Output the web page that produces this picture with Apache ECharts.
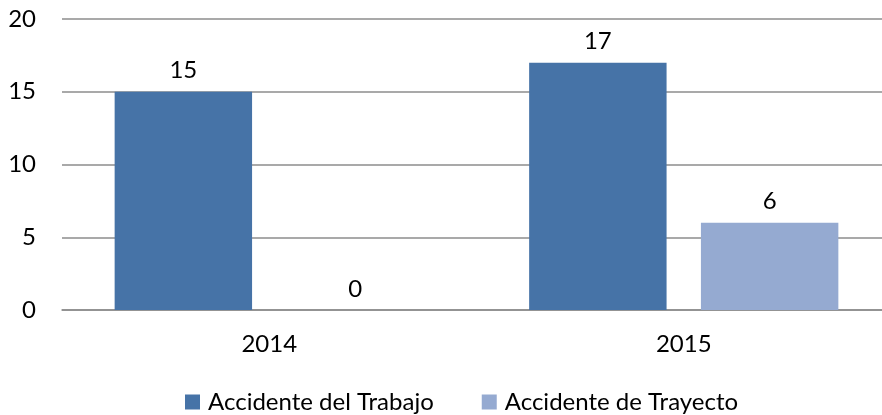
<!DOCTYPE html>
<html>
<head>
<meta charset="utf-8">
<script src="https://cdn.jsdelivr.net/npm/echarts@6/dist/echarts.min.js"></script>
<style>
  html, body { margin: 0; padding: 0; background: #fff; }
  #chart { width: 882px; height: 415px; }
</style>
</head>
<body>
<div id="chart"></div>
<script>
  const years = ['2014', '2015'];
  const trabajo = [15, 17];
  const trayecto = [0, 6];
  const seriesNames = ['Accidente del Trabajo', 'Accidente de Trayecto'];

  const font = 'Lato, "Open Sans", sans-serif';
  const chart = echarts.init(document.getElementById('chart'));

  const option = {
    animation: false,
    textStyle: { fontFamily: font, color: '#000' },
    // plot area runs a bit past the right edge, like the original
    grid: { left: 62, top: 19, width: 829, height: 291, outerBoundsMode: 'none' },
    legend: {
      left: 180,
      top: 385,
      itemWidth: 15,
      itemHeight: 15,
      itemGap: 48,
      icon: 'rect',
      textStyle: { fontFamily: font, fontSize: 24, color: '#000', padding: [0, 0, 0, 3] },
      data: seriesNames
    },
    xAxis: {
      type: 'category',
      data: years,
      axisLine: { lineStyle: { color: '#8c8c8c', width: 1.5 } },
      axisTick: { show: false },
      axisLabel: { fontFamily: font, fontSize: 24, color: '#000', margin: 22 }
    },
    yAxis: {
      type: 'value',
      min: 0,
      max: 20,
      interval: 5,
      axisLine: { show: false },
      axisTick: { show: false },
      axisLabel: { fontFamily: font, fontSize: 24, color: '#000', margin: 26 },
      splitLine: { lineStyle: { color: '#8c8c8c', width: 1.5 } }
    },
    series: [
      {
        name: seriesNames[0],
        type: 'bar',
        data: trabajo,
        barGap: '25%',
        barCategoryGap: '25.4%',
        itemStyle: { color: '#4673a7' },
        label: { show: true, position: 'top', distance: 9, fontFamily: font, fontSize: 24, color: '#000' }
      },
      {
        name: seriesNames[1],
        type: 'bar',
        data: trayecto,
        itemStyle: { color: '#95aad1' },
        label: { show: true, position: 'top', distance: 9, fontFamily: font, fontSize: 24, color: '#000' }
      }
    ]
  };

  chart.setOption(option);
</script>
</body>
</html>
